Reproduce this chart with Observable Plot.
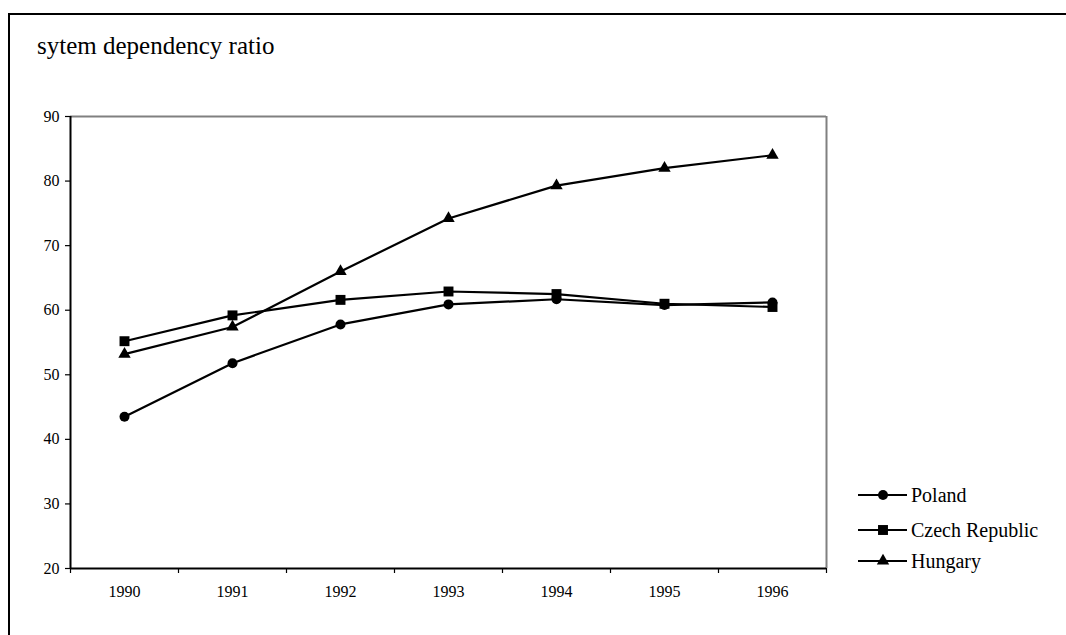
<!DOCTYPE html>
<html>
<head>
<meta charset="utf-8">
<script src="https://cdn.jsdelivr.net/npm/d3@7"></script>
<script src="https://cdn.jsdelivr.net/npm/@observablehq/plot@0.6"></script>
<style>
  html, body { margin: 0; padding: 0; background: #fff; }
  #wrap { position: relative; width: 1066px; height: 635px; overflow: hidden; font-family: "Liberation Serif", "DejaVu Serif", serif; }
  #border { position: absolute; left: 8px; top: 13px; width: 1200px; height: 800px; border-top: 2px solid #000; border-left: 2px solid #000; }
  #title { position: absolute; left: 37px; top: 32px; font-size: 25px; color: #000; white-space: nowrap; font-family: "Liberation Serif", "DejaVu Serif", serif; }
  #chart { position: absolute; left: 0; top: 0; }
  #legend { position: absolute; left: 0; top: 0; }
  #chart text, #legend text { font-family: "Liberation Serif", "DejaVu Serif", serif; }
</style>
</head>
<body>
<div id="wrap">
  <div id="border"></div>
  <div id="title">sytem dependency ratio</div>
  <div id="chart"></div>
  <svg id="legend" width="1066" height="635"></svg>
</div>
<script>
const years = [1990, 1991, 1992, 1993, 1994, 1995, 1996];
const poland  = [43.5, 51.8, 57.8, 60.9, 61.7, 60.8, 61.2];
const czech   = [55.2, 59.2, 61.6, 62.9, 62.5, 61.0, 60.5];
const hungary = [53.2, 57.4, 66.0, 74.2, 79.3, 82.0, 84.0];
const seriesNames = ["Poland", "Czech Republic", "Hungary"];
const seriesSymbols = ["circle", "square", "triangle"];
const seriesR = [5, 5.6, 4.6];
const yTicks = [20, 30, 40, 50, 60, 70, 80, 90];

const seriesValues = [poland, czech, hungary];
const data = seriesNames.map((name, i) => years.map((year, j) => ({series: name, year, value: seriesValues[i][j]})));
const boundaries = years.map(y => y - 0.5).concat([years[years.length - 1] + 0.5]);
const serif = "'Liberation Serif', 'DejaVu Serif', serif";

const marks = [
  Plot.ruleY([90], {stroke: "#808080", strokeWidth: 2}),
  Plot.ruleX([boundaries[boundaries.length - 1]], {stroke: "#808080", strokeWidth: 2}),
  Plot.ruleX([boundaries[0]], {stroke: "#000", strokeWidth: 2}),
  Plot.ruleY([20], {stroke: "#000", strokeWidth: 2}),
  Plot.axisY({ticks: yTicks, tickSize: 5, tickPadding: 6, fontSize: 16, stroke: "#000", strokeWidth: 1.2, label: null, fontFamily: serif}),
  Plot.axisX({ticks: years, tickSize: 0, tickPadding: 17, tickFormat: d => String(d), fontSize: 16, label: null, fontFamily: serif}),
  Plot.axisX({ticks: boundaries, tickSize: 5, text: null, stroke: "#000", strokeWidth: 1.2, label: null})
];
data.forEach((d, i) => {
  marks.push(Plot.line(d, {x: "year", y: "value", stroke: "#000", strokeWidth: 2.2}));
  marks.push(Plot.dot(d, {x: "year", y: "value", symbol: () => seriesSymbols[i], fill: "#000", stroke: "none", r: seriesR[i]}));
});

const chart = Plot.plot({
  width: 1066,
  height: 635,
  marginLeft: 70,
  marginRight: 240,
  marginTop: 116,
  marginBottom: 67,
  style: {fontFamily: serif, color: "#000", background: "transparent"},
  x: {domain: [boundaries[0], boundaries[boundaries.length - 1]], axis: null},
  y: {domain: [20, 90], axis: null},
  symbol: {domain: seriesSymbols, range: seriesSymbols},
  marks
});
document.getElementById("chart").appendChild(chart);

// legend
const leg = d3.select("#legend");
const rowY = [495, 530, 561];
seriesNames.forEach((name, i) => {
  const g = leg.append("g").attr("transform", `translate(0,${rowY[i]})`);
  g.append("line").attr("x1", 858).attr("x2", 907).attr("y1", 0).attr("y2", 0).attr("stroke", "#000").attr("stroke-width", 2.2);
  const symType = {circle: d3.symbolCircle, square: d3.symbolSquare, triangle: d3.symbolTriangle}[seriesSymbols[i]];
  g.append("path").attr("transform", "translate(883,0)").attr("d", d3.symbol(symType, Math.PI * seriesR[i] * seriesR[i])()).attr("fill", "#000");
  g.append("text").attr("x", 911).attr("y", 0).attr("dy", "0.35em").attr("font-size", 20)
    .attr("font-family", serif).attr("fill", "#000").text(name);
});
</script>
</body>
</html>
